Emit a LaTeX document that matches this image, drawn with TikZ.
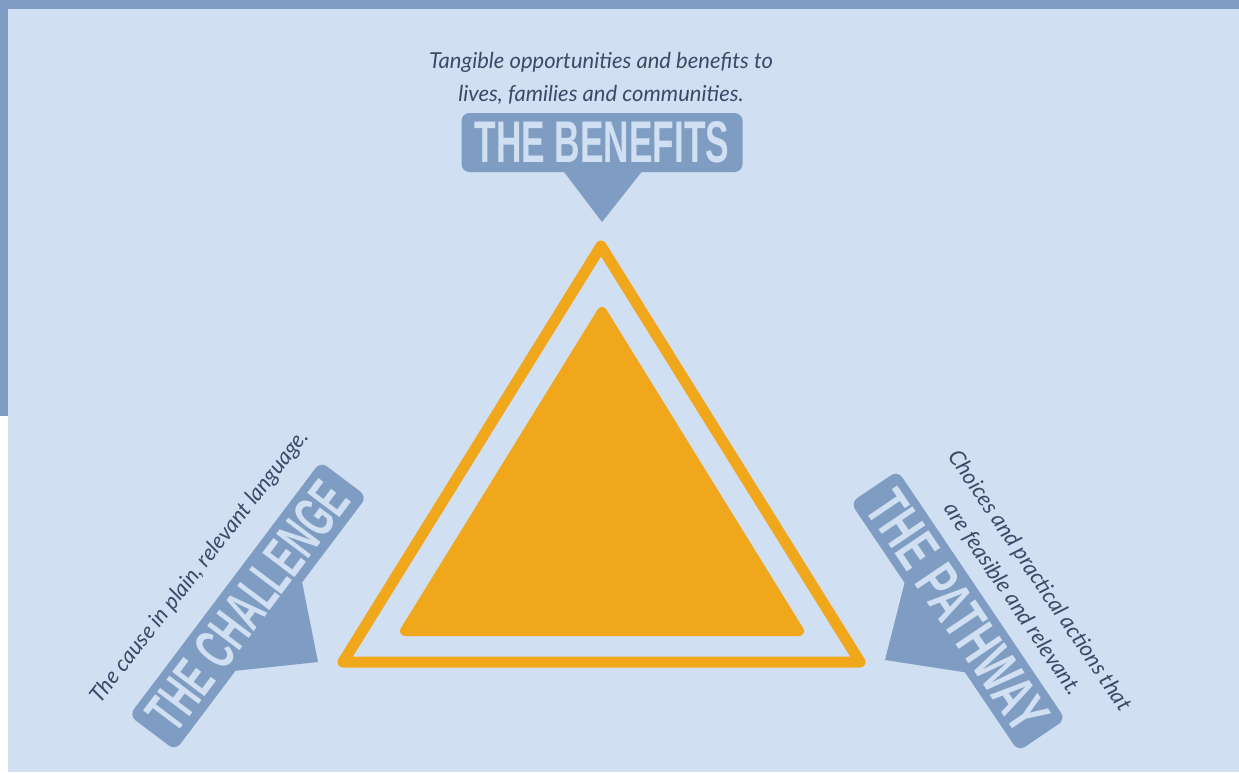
\documentclass[tikz,border=0pt]{standalone}
\usepackage{fontspec}
\setmainfont{Lato}
\newfontfamily\headfont{Liberation Sans}
\usepackage{graphicx}
\definecolor{bgblue}{RGB}{208,223,241}
\definecolor{darkblue}{RGB}{127,157,194}
\definecolor{triorange}{RGB}{241,167,27}
\definecolor{captext}{RGB}{62,72,105}
\begin{document}
\begin{tikzpicture}[x=1pt,y=-1pt,
  tag/.style={fill=darkblue, rounded corners=8pt, inner sep=0pt, text=bgblue},
  caption/.style={text=captext, font=\fontsize{22}{33}\selectfont\itshape, align=center, inner sep=0pt},
  pointer/.style={fill=darkblue},
  ring/.style={draw=triorange, line width=11pt, line join=round},
  core/.style={fill=triorange, draw=triorange, line width=10pt, line join=round}]
\useasboundingbox (0,0) rectangle (1239,772);
% frame and background
\fill[white] (0,0) rectangle (1239,772);
\fill[darkblue] (0,0) rectangle (1239,9);
\fill[darkblue] (0,0) rectangle (8,416);
\fill[bgblue] (8,9) rectangle (1239,772);
% triangles
\draw[ring] (601,246) -- (343,662) -- (860,662) -- cycle;
\path[core] (602,312) -- (405,631) -- (799,631) -- cycle;
% pointer tips
\coordinate (bentip) at (602,222);
\coordinate (chatip) at (318,662);
\coordinate (pattip) at (885,660);
\fill[pointer] (555,160) -- (bentip) -- (651,160) -- cycle;
\fill[pointer] (298.5,564.5) -- (chatip) -- (220.5,672.4) -- cycle;
\fill[pointer] (908.8,566.2) -- (pattip) -- (976,674) -- cycle;
% tags
\node[tag, minimum width=281pt, minimum height=59pt] (ben) at (602,142.5)
  {\resizebox{255pt}{41pt}{\headfont\bfseries THE BENEFITS}};
\node[tag, rotate=53, minimum width=318pt, minimum height=58pt] (cha) at (248,606)
  {\resizebox{293pt}{41pt}{\headfont\bfseries THE CHALLENGE}};
\node[tag, rotate=-56, minimum width=300pt, minimum height=57pt] (pat) at (958,611)
  {\resizebox{276pt}{41pt}{\headfont\bfseries THE PATHWAY}};
% captions
\node[caption] (bencap) at (601,78) {Tangible opportunities and benefits to\\lives, families and communities.};
\node[caption, rotate=52] (chacap) at (200,567) {The cause in plain, relevant language.};
\node[caption, rotate=-56] (patcap) at (1026,590) {Choices and practical actions that\\are feasible and relevant.};
\end{tikzpicture}
\end{document}
